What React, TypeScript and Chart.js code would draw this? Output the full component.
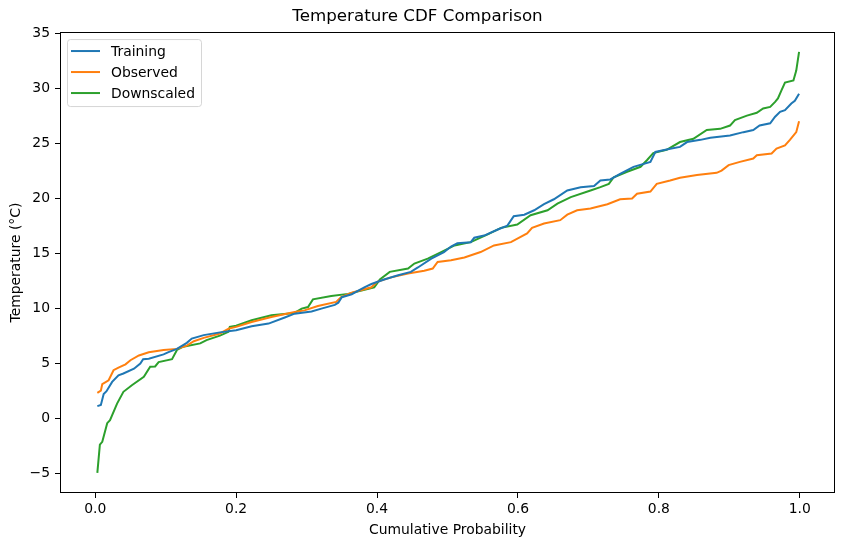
import React, { useEffect, useRef } from "react";
import { Chart, registerables } from "chart.js";

Chart.register(...registerables);

// [cumulative probability, temperature °C]
const trainingCurve: [number, number][] = [
  [0.003, 1.1], [0.008, 1.2], [0.012, 2.2], [0.016, 2.45], [0.024, 3.3], [0.033, 3.9],
  [0.040, 4.06], [0.055, 4.5], [0.064, 4.97], [0.068, 5.36], [0.076, 5.4], [0.097, 5.8],
  [0.104, 6.0], [0.116, 6.3], [0.130, 6.85], [0.137, 7.24], [0.154, 7.55], [0.177, 7.8],
  [0.200, 8.0], [0.222, 8.36], [0.246, 8.6], [0.269, 9.15], [0.283, 9.5], [0.307, 9.7],
  [0.321, 9.96], [0.340, 10.3], [0.345, 10.5], [0.350, 11.0], [0.364, 11.27], [0.382, 11.9],
  [0.392, 12.2], [0.410, 12.6], [0.430, 13.0], [0.448, 13.3], [0.458, 13.7], [0.477, 14.5],
  [0.495, 15.1], [0.505, 15.6], [0.514, 15.9], [0.533, 16.0], [0.538, 16.4], [0.552, 16.6],
  [0.573, 17.2], [0.585, 17.5], [0.594, 18.36], [0.609, 18.5], [0.623, 18.9], [0.637, 19.45],
  [0.651, 19.9], [0.670, 20.7], [0.689, 21.0], [0.708, 21.1], [0.717, 21.6], [0.731, 21.7],
  [0.745, 22.2], [0.764, 22.85], [0.788, 23.3], [0.795, 24.2], [0.816, 24.5], [0.830, 24.66],
  [0.840, 25.1], [0.859, 25.3], [0.873, 25.5], [0.901, 25.7], [0.920, 26.0], [0.934, 26.2],
  [0.943, 26.6], [0.958, 26.8], [0.965, 27.4], [0.972, 27.85], [0.979, 28.0], [0.988, 28.6],
  [0.993, 28.85], [0.999, 29.5],
];

const observedCurve: [number, number][] = [
  [0.003, 2.3], [0.008, 2.5], [0.010, 3.1], [0.019, 3.45], [0.026, 4.36], [0.033, 4.6],
  [0.043, 4.9], [0.050, 5.27], [0.062, 5.7], [0.076, 6.0], [0.097, 6.2], [0.116, 6.3],
  [0.130, 6.6], [0.140, 7.0], [0.154, 7.3], [0.177, 7.7], [0.190, 8.15], [0.200, 8.3],
  [0.222, 8.75], [0.250, 9.2], [0.283, 9.66], [0.297, 9.8], [0.316, 10.2], [0.342, 10.57],
  [0.349, 11.0], [0.364, 11.4], [0.392, 11.9], [0.400, 12.4], [0.420, 12.8], [0.444, 13.15],
  [0.467, 13.4], [0.479, 13.6], [0.486, 14.2], [0.505, 14.36], [0.524, 14.6], [0.547, 15.1],
  [0.566, 15.7], [0.590, 16.0], [0.613, 16.8], [0.620, 17.3], [0.637, 17.7], [0.660, 18.0],
  [0.670, 18.5], [0.684, 18.9], [0.703, 19.06], [0.727, 19.45], [0.745, 19.9], [0.762, 19.97],
  [0.769, 20.4], [0.788, 20.6], [0.797, 21.3], [0.816, 21.6], [0.830, 21.85], [0.854, 22.1],
  [0.882, 22.3], [0.889, 22.5], [0.899, 23.0], [0.915, 23.3], [0.934, 23.6], [0.939, 23.9],
  [0.960, 24.06], [0.967, 24.5], [0.979, 24.8], [0.986, 25.3], [0.995, 26.0], [0.999, 27.0],
];

const downscaledCurve: [number, number][] = [
  [0.003, -4.97], [0.0066, -2.4], [0.010, -2.15], [0.017, -0.45], [0.021, -0.18], [0.031, 1.33],
  [0.040, 2.4], [0.052, 3.0], [0.069, 3.76], [0.078, 4.67], [0.085, 4.7], [0.090, 5.1],
  [0.109, 5.36], [0.116, 6.2], [0.125, 6.5], [0.149, 6.8], [0.158, 7.1], [0.177, 7.5],
  [0.189, 7.85], [0.191, 8.3], [0.200, 8.4], [0.222, 8.9], [0.250, 9.36], [0.283, 9.57],
  [0.293, 9.96], [0.302, 10.1], [0.309, 10.8], [0.335, 11.1], [0.359, 11.3], [0.378, 11.6],
  [0.396, 11.9], [0.404, 12.6], [0.418, 13.3], [0.444, 13.6], [0.453, 14.06], [0.472, 14.5],
  [0.491, 15.1], [0.510, 15.7], [0.533, 16.0], [0.557, 16.7], [0.576, 17.3], [0.599, 17.6],
  [0.618, 18.45], [0.642, 18.9], [0.656, 19.5], [0.675, 20.1], [0.703, 20.7], [0.717, 21.0],
  [0.729, 21.3], [0.736, 21.9], [0.755, 22.4], [0.774, 22.85], [0.783, 23.45], [0.792, 24.1],
  [0.811, 24.4], [0.830, 25.1], [0.849, 25.4], [0.868, 26.2], [0.887, 26.3], [0.901, 26.6],
  [0.908, 27.1], [0.925, 27.5], [0.939, 27.76], [0.948, 28.15], [0.958, 28.3], [0.965, 28.75],
  [0.969, 29.06], [0.974, 29.8], [0.979, 30.5], [0.991, 30.7], [0.995, 31.6], [0.999, 33.3],
];

const seriesLabels = ["Training", "Observed", "Downscaled"];
const seriesColors = ["#1f77b4", "#ff7f0e", "#2ca02c"];
const xTickValues = [0, 0.2, 0.4, 0.6, 0.8, 1.0];
const yTickValues = [-5, 0, 5, 10, 15, 20, 25, 30, 35];

const FONT = "'DejaVu Sans', sans-serif";

const framePlugin = {
  id: "frameAndLegend",
  afterDatasetsDraw(chart: any) {
    const { ctx, chartArea } = chart;
    ctx.save();
    // spines
    ctx.strokeStyle = "#000";
    ctx.lineWidth = 1;
    const l = Math.round(chartArea.left) + 0.5;
    const t = Math.round(chartArea.top) + 0.5;
    const r0 = Math.round(chartArea.right) - 0.5;
    const b = Math.round(chartArea.bottom) - 0.5;
    ctx.strokeRect(l, t, r0 - l, b - t);
    // legend
    const bx = chartArea.left + 7.5;
    const by = chartArea.top + 7.5;
    const bw = 134;
    const bh = 67;
    const r = 3;
    ctx.beginPath();
    ctx.moveTo(bx + r, by);
    ctx.lineTo(bx + bw - r, by);
    ctx.arcTo(bx + bw, by, bx + bw, by + r, r);
    ctx.lineTo(bx + bw, by + bh - r);
    ctx.arcTo(bx + bw, by + bh, bx + bw - r, by + bh, r);
    ctx.lineTo(bx + r, by + bh);
    ctx.arcTo(bx, by + bh, bx, by + bh - r, r);
    ctx.lineTo(bx, by + r);
    ctx.arcTo(bx, by, bx + r, by, r);
    ctx.closePath();
    ctx.fillStyle = "rgba(255,255,255,0.8)";
    ctx.fill();
    ctx.strokeStyle = "rgba(204,204,204,0.8)";
    ctx.stroke();
    ctx.font = `13.9px ${FONT}`;
    ctx.textBaseline = "middle";
    ctx.textAlign = "left";
    chart.data.datasets.forEach((ds: any, i: number) => {
      const yy = chartArea.top + 19 + i * 21;
      ctx.strokeStyle = ds.borderColor;
      ctx.lineWidth = 2;
      ctx.beginPath();
      ctx.moveTo(chartArea.left + 11, yy);
      ctx.lineTo(chartArea.left + 40, yy);
      ctx.stroke();
      ctx.fillStyle = "#000";
      ctx.fillText(ds.label, chartArea.left + 51, yy + 1);
    });
    ctx.restore();
  },
};

export default function App() {
  const ref = useRef<HTMLCanvasElement | null>(null);
  useEffect(() => {
    if (!ref.current) return;
    const curves = [trainingCurve, observedCurve, downscaledCurve];
    const chart = new Chart(ref.current, {
      type: "line",
      data: {
        datasets: curves.map((c, i) => ({
          label: seriesLabels[i],
          data: c.map(([p, t]) => ({ x: p, y: t })),
          borderColor: seriesColors[i],
          backgroundColor: seriesColors[i],
          borderWidth: 2,
          pointRadius: 0,
          tension: 0,
          fill: false,
        })),
      },
      options: {
        animation: false,
        responsive: false,
        devicePixelRatio: 1,
        layout: { padding: { left: 0, right: 9, top: 0, bottom: 0 } },
        plugins: {
          legend: { display: false },
          tooltip: { enabled: false },
          title: {
            display: true,
            text: "Temperature CDF Comparison",
            color: "#000",
            font: { family: FONT, size: 16.7, weight: "normal" },
            padding: { top: 7, bottom: 5 },
          },
        },
        scales: {
          x: {
            type: "linear",
            min: -0.05,
            max: 1.05,
            afterBuildTicks: (scale: any) => {
              scale.ticks = xTickValues.map((v) => ({ value: v }));
            },
            afterFit: (scale: any) => {
              scale.height = 54;
            },
            ticks: {
              color: "#000",
              font: { family: FONT, size: 13.9 },
              padding: 3,
              maxRotation: 0,
              autoSkip: false,
              callback: (v: any) => Number(v).toFixed(1),
            },
            grid: {
              display: true,
              drawOnChartArea: false,
              drawTicks: true,
              tickLength: 5,
              color: "#000",
              lineWidth: 1,
            },
            border: { display: false },
            title: {
              display: true,
              text: "Cumulative Probability",
              color: "#000",
              font: { family: FONT, size: 13.9 },
              padding: { top: 0, bottom: 8 },
            },
          },
          y: {
            type: "linear",
            min: -6.8,
            max: 35.1,
            afterBuildTicks: (scale: any) => {
              scale.ticks = yTickValues.map((v) => ({ value: v }));
            },
            afterFit: (scale: any) => {
              scale.width = 60;
            },
            ticks: {
              color: "#000",
              font: { family: FONT, size: 13.9 },
              padding: 5,
              autoSkip: false,
              callback: (v: any) => {
                const n = Number(v);
                return n < 0 ? "\u2212" + Math.abs(n) : String(n);
              },
            },
            grid: {
              display: true,
              drawOnChartArea: false,
              drawTicks: true,
              tickLength: 5,
              color: "#000",
              lineWidth: 1,
            },
            border: { display: false },
            title: {
              display: true,
              text: "Temperature (°C)",
              color: "#000",
              font: { family: FONT, size: 13.9 },
              padding: { top: 8, bottom: 0 },
            },
          },
        },
      },
      plugins: [framePlugin],
    } as any);
    return () => chart.destroy();
  }, []);
  return (
    <div style={{ position: "fixed", left: 0, top: 0, width: 844, height: 547, background: "#fff" }}>
      <canvas ref={ref} width={844} height={547} style={{ display: "block", width: 844, height: 547 }} />
    </div>
  );
}
